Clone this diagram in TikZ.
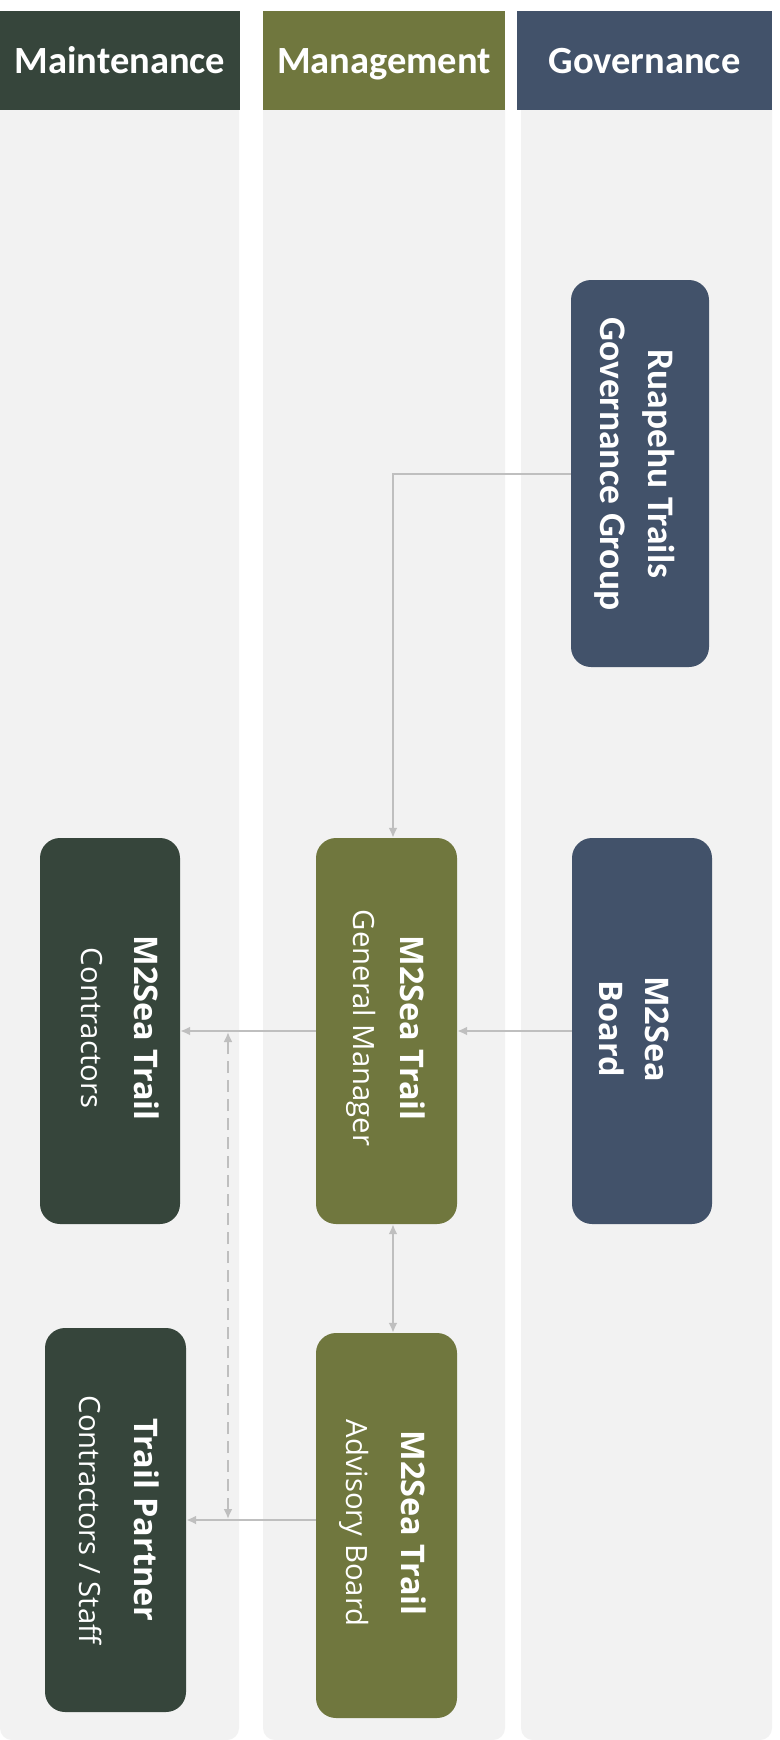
\documentclass[tikz,border=0pt]{standalone}
\usepackage{fontspec}
\newfontfamily\calfont{Carlito}
\newfontfamily\osfont{Open Sans}
\usetikzlibrary{arrows.meta}
\definecolor{maintc}{HTML}{36453B}
\definecolor{mgmtc}{HTML}{70773E}
\definecolor{govc}{HTML}{42526A}
\definecolor{colbg}{HTML}{F2F2F2}
\definecolor{linkc}{HTML}{BFBFBF}
\newcommand\boldln[1]{{\bfseries\fontsize{32.5}{32.5}\selectfont #1}}
\tikzset{
  colbody/.style={fill=colbg, draw=none, rounded corners=12pt, inner sep=0pt},
  header/.style={draw=none, inner sep=0pt, text=white, minimum height=99pt,
    text height=25pt, text depth=0pt,
    font=\calfont\bfseries\fontsize{38.5}{46}\selectfont},
  card/.style={draw=none, rounded corners=20pt, inner sep=0pt},
  vtext/.style={rotate=-90, text=white, inner sep=0pt, align=center},
  link/.style={draw=linkc, line width=2pt, ->},
}
\begin{document}
\begin{tikzpicture}[x=1pt,y=-1pt,>={Latex[length=10pt,width=9pt]}]
\useasboundingbox[fill=white] (0,0) rectangle (779,1740);
% column bodies
\node[colbody, minimum width=239pt, minimum height=1702pt] (cmaint) at (119.5,889) {};
\node[colbody, minimum width=242pt, minimum height=1702pt] (cmgmt) at (384,889) {};
\node[colbody, minimum width=251pt, minimum height=1702pt] (cgov) at (646.5,889) {};
% headers
\node[header, fill=maintc, minimum width=240pt] (hmaint) at (120,60.5) {Maintenance};
\node[header, fill=mgmtc, minimum width=242pt] (hmgmt) at (384,60.5) {Management};
\node[header, fill=govc, minimum width=255pt] (hgov) at (644.5,60.5) {Governance};
% cards
\node[card, fill=govc, minimum width=138pt, minimum height=387pt] (rtgg) at (640,473.5) {};
\node[card, fill=govc, minimum width=140pt, minimum height=386pt] (board) at (642,1031) {};
\node[card, fill=mgmtc, minimum width=141pt, minimum height=386pt] (gm) at (386.5,1031) {};
\node[card, fill=maintc, minimum width=140pt, minimum height=386pt] (contr) at (110,1031) {};
\node[card, fill=mgmtc, minimum width=141pt, minimum height=385pt] (adv) at (386.5,1525.5) {};
\node[card, fill=maintc, minimum width=141pt, minimum height=384pt] (tp) at (115.5,1520) {};
% card texts
\node[vtext, font=\calfont\bfseries\fontsize{37.5}{48}\selectfont] (trtgg) at (635,464) {Ruapehu Trails\\Governance Group};
\node[vtext, font=\osfont\fontsize{29.3}{46}\selectfont] (tboard) at (634.5,1029) {\boldln{M2Sea}\\\boldln{Board}};
\node[vtext, font=\osfont\fontsize{29.3}{47}\selectfont] (tgm) at (385.5,1028) {\boldln{M2Sea Trail}\\General Manager};
\node[vtext, font=\osfont\fontsize{29.3}{53}\selectfont] (tcontr) at (120.5,1028) {\boldln{M2Sea Trail}\\Contractors};
\node[vtext, font=\osfont\fontsize{29.3}{55}\selectfont] (tadv) at (382.5,1523) {\boldln{M2Sea Trail}\\Advisory Board};
\node[vtext, font=\osfont\fontsize{29.3}{55}\selectfont] (ttp) at (119.5,1520) {\boldln{Trail Partner}\\Contractors / Staff};
% connectors
\draw[link] (rtgg.west) -| ([xshift=6.5pt]gm.north);
\draw[link] (board.west) -- (gm.east);
\draw[link] (gm.west) -- (contr.east);
\draw[link, <->] ([xshift=6.5pt]gm.south) -- ([xshift=6.5pt]adv.north);
\draw[link] (tp.east -| adv.west) -- (tp.east);
\coordinate (dtop) at (228,1032);
\coordinate (dbot) at (228,1519);
\draw[link, <->, dash pattern=on 12pt off 7pt] (dbot) -- (dtop);
\end{tikzpicture}
\end{document}
